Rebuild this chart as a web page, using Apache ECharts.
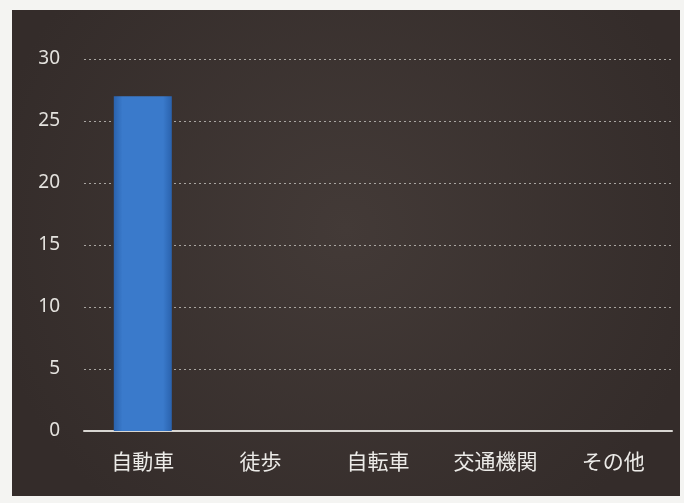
<!DOCTYPE html>
<html><head><meta charset="utf-8">
<script src="https://cdn.jsdelivr.net/npm/echarts@6/dist/echarts.min.js"></script>
<style>html,body{margin:0;padding:0;background:#f4f4f2;}#c{width:684px;height:503px;}</style>
</head><body><div id="c"></div>
<script>
const categories = ['自動車', '徒歩', '自転車', '交通機関', 'その他'];
const values = [27, 0, 0, 0, 0];
const yTicks = [0, 5, 10, 15, 20, 25, 30];

const chart = echarts.init(document.getElementById('c'));
chart.setOption({
  animation: false,
  backgroundColor: '#f4f4f2',
  graphic: [{
    type: 'rect', z: -10, silent: true,
    shape: { x: 12, y: 10, width: 668, height: 486 },
    style: { fill: new echarts.graphic.RadialGradient(0.5, 0.45, 0.75, [
      { offset: 0, color: '#433a37' }, { offset: 1, color: '#342c2a' }]) }
  }],
  grid: { left: 84, right: 12, top: 59, bottom: 72 },
  xAxis: {
    type: 'category', data: categories,
    axisLine: { lineStyle: { color: '#d8d6d2', width: 2 } },
    axisTick: { show: false },
    axisLabel: { color: '#ecebe8', fontSize: 21, margin: 20, fontFamily: 'Noto Sans CJK JP' }
  },
  yAxis: {
    type: 'value', min: yTicks[0], max: yTicks[yTicks.length - 1], interval: 5,
    axisLine: { show: false }, axisTick: { show: false },
    axisLabel: { color: '#e4e2de', fontSize: 19, margin: 24, fontFamily: 'Noto Sans' },
    splitLine: { lineStyle: { color: '#a9a6a2', type: [2, 3], width: 1 } }
  },
  series: [{
    type: 'bar', data: values, barWidth: 58,
    itemStyle: {
      color: new echarts.graphic.LinearGradient(0, 0, 1, 0, [
        { offset: 0, color: '#2a62ad' }, { offset: 0.15, color: '#3a7acb' },
        { offset: 0.85, color: '#3a7acb' }, { offset: 1, color: '#2a62ad' }]),
      borderWidth: 0
    }
  }]
});
</script></body></html>
